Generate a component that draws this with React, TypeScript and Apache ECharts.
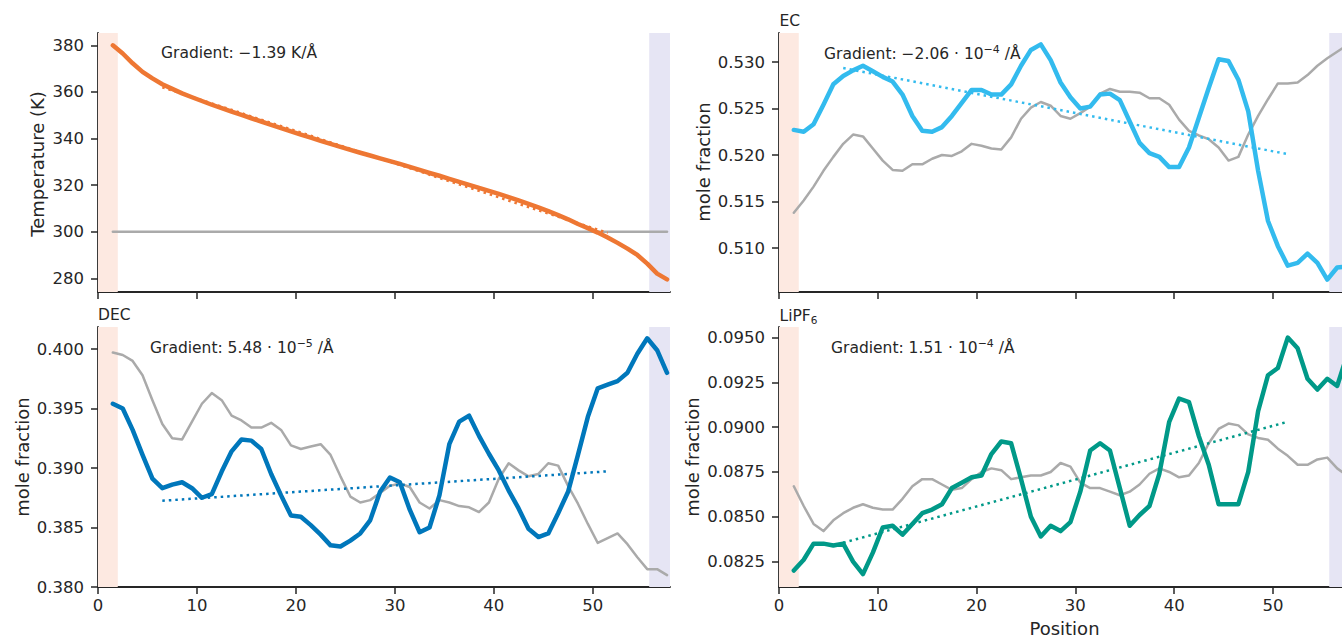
import React, { useEffect, useRef } from "react";
import * as echarts from "echarts";

// ---------- data ----------
const xPos = [
  1.5, 2.5, 3.5, 4.5, 5.5, 6.5, 7.5, 8.5, 9.5, 10.5,
  11.5, 12.5, 13.5, 14.5, 15.5, 16.5, 17.5, 18.5, 19.5, 20.5,
  21.5, 22.5, 23.5, 24.5, 25.5, 26.5, 27.5, 28.5, 29.5, 30.5,
  31.5, 32.5, 33.5, 34.5, 35.5, 36.5, 37.5, 38.5, 39.5, 40.5,
  41.5, 42.5, 43.5, 44.5, 45.5, 46.5, 47.5, 48.5, 49.5, 50.5,
  51.5, 52.5, 53.5, 54.5, 55.5, 56.5, 57.5,
];

const temperature = [
  380.0, 376.5, 372.3, 368.6, 365.8, 363.3, 361.3, 359.4, 357.7, 356.1,
  354.5, 353.0, 351.5, 350.1, 348.7, 347.3, 345.9, 344.5, 343.1, 341.7,
  340.4, 339.0, 337.7, 336.4, 335.1, 333.9, 332.7, 331.5, 330.3, 329.1,
  327.8, 326.5, 325.2, 324.0, 322.7, 321.4, 320.1, 318.8, 317.5, 316.2,
  314.8, 313.4, 311.9, 310.4, 308.8, 307.1, 305.3, 303.3, 301.5, 299.6,
  297.5, 295.2, 292.7, 290.0, 286.3, 282.0, 279.5,
];
const temperatureRef = [
  300.0, 300.0, 300.0, 300.0, 300.0, 300.0, 300.0, 300.0, 300.0, 300.0,
  300.0, 300.0, 300.0, 300.0, 300.0, 300.0, 300.0, 300.0, 300.0, 300.0,
  300.0, 300.0, 300.0, 300.0, 300.0, 300.0, 300.0, 300.0, 300.0, 300.0,
  300.0, 300.0, 300.0, 300.0, 300.0, 300.0, 300.0, 300.0, 300.0, 300.0,
  300.0, 300.0, 300.0, 300.0, 300.0, 300.0, 300.0, 300.0, 300.0, 300.0,
  300.0, 300.0, 300.0, 300.0, 300.0, 300.0, 300.0,
];
const temperatureFitX = [6.5, 51.5];
const temperatureFitY = [362.0, 299.45];

const ecValues = [
  0.5227, 0.5225, 0.5233, 0.5254, 0.5276, 0.5285, 0.5291, 0.5296, 0.5290, 0.5284,
  0.5279, 0.5265, 0.5242, 0.5226, 0.5225, 0.5230, 0.5242, 0.5256, 0.5270, 0.5270,
  0.5265, 0.5265, 0.5276, 0.5296, 0.5313, 0.5319, 0.5302, 0.5278, 0.5262, 0.5250,
  0.5252, 0.5265, 0.5266, 0.5259, 0.5236, 0.5213, 0.5202, 0.5198, 0.5187, 0.5187,
  0.5208, 0.5240, 0.5272, 0.5303, 0.5301, 0.5281, 0.5247, 0.5183, 0.5129, 0.5102,
  0.5081, 0.5084, 0.5094, 0.5084, 0.5066, 0.5079, 0.5080,
];
const ecRef = [
  0.5138, 0.5151, 0.5166, 0.5183, 0.5198, 0.5212, 0.5222, 0.5220, 0.5207, 0.5194,
  0.5184, 0.5183, 0.5190, 0.5190, 0.5196, 0.5200, 0.5199, 0.5204, 0.5212, 0.5210,
  0.5207, 0.5206, 0.5219, 0.5239, 0.5251, 0.5257, 0.5253, 0.5242, 0.5239, 0.5245,
  0.5252, 0.5266, 0.5271, 0.5268, 0.5268, 0.5267, 0.5261, 0.5261, 0.5254, 0.5238,
  0.5226, 0.5221, 0.5217, 0.5208, 0.5194, 0.5198, 0.5222, 0.5242, 0.5260, 0.5277,
  0.5277, 0.5278, 0.5286, 0.5296, 0.5304, 0.5311, 0.5318,
];
const ecFitX = [6.5, 51.5];
const ecFitY = [0.52936, 0.52009];

const decValues = [
  0.3954, 0.3950, 0.3932, 0.3911, 0.3891, 0.3883, 0.3886, 0.3888, 0.3883, 0.3875,
  0.3878, 0.3897, 0.3914, 0.3924, 0.3923, 0.3916, 0.3895, 0.3877, 0.3860, 0.3859,
  0.3852, 0.3844, 0.3835, 0.3834, 0.3839, 0.3845, 0.3856, 0.3880, 0.3892, 0.3888,
  0.3865, 0.3846, 0.3850, 0.3877, 0.3920, 0.3939, 0.3944, 0.3927, 0.3912, 0.3898,
  0.3881, 0.3866, 0.3849, 0.3842, 0.3845, 0.3862, 0.3880, 0.3911, 0.3943, 0.3967,
  0.3970, 0.3973, 0.3980, 0.3996, 0.4009, 0.3999, 0.3980,
];
const decRef = [
  0.3997, 0.3995, 0.3990, 0.3978, 0.3957, 0.3937, 0.3925, 0.3924, 0.3939, 0.3954,
  0.3963, 0.3957, 0.3944, 0.3940, 0.3934, 0.3934, 0.3938, 0.3932, 0.3919, 0.3916,
  0.3918, 0.3920, 0.3911, 0.3893, 0.3876, 0.3871, 0.3873, 0.3879, 0.3885, 0.3887,
  0.3884, 0.3871, 0.3866, 0.3873, 0.3871, 0.3868, 0.3867, 0.3863, 0.3871, 0.3891,
  0.3904, 0.3898, 0.3893, 0.3895, 0.3904, 0.3902, 0.3885, 0.3870, 0.3853, 0.3837,
  0.3841, 0.3845, 0.3836, 0.3825, 0.3815, 0.3815, 0.3810,
];
const decFitX = [6.5, 51.5];
const decFitY = [0.38725, 0.38972];

const lipfValues = [
  0.0820, 0.0826, 0.0835, 0.0835, 0.0834, 0.0835, 0.0825, 0.0818, 0.0830, 0.0844,
  0.0845, 0.0840, 0.0846, 0.0852, 0.0854, 0.0857, 0.0866, 0.0869, 0.0872, 0.0873,
  0.0885, 0.0892, 0.0891, 0.0871, 0.0850, 0.0839, 0.0845, 0.0842, 0.0847, 0.0864,
  0.0887, 0.0891, 0.0887, 0.0866, 0.0845, 0.0851, 0.0856, 0.0874, 0.0903, 0.0916,
  0.0914, 0.0895, 0.0879, 0.0857, 0.0857, 0.0857, 0.0875, 0.0909, 0.0929, 0.0933,
  0.0950, 0.0944, 0.0927, 0.0921, 0.0927, 0.0923, 0.0940,
];
const lipfRef = [
  0.0867, 0.0856, 0.0846, 0.0842, 0.0848, 0.0852, 0.0855, 0.0857, 0.0855, 0.0854,
  0.0854, 0.0860, 0.0867, 0.0871, 0.0871, 0.0868, 0.0865, 0.0866, 0.0871, 0.0875,
  0.0877, 0.0876, 0.0871, 0.0872, 0.0873, 0.0873, 0.0875, 0.0880, 0.0878, 0.0869,
  0.0866, 0.0866, 0.0864, 0.0862, 0.0864, 0.0868, 0.0874, 0.0877, 0.0875, 0.0872,
  0.0873, 0.0880, 0.0891, 0.0899, 0.0902, 0.0901, 0.0896, 0.0894, 0.0893, 0.0888,
  0.0884, 0.0879, 0.0879, 0.0882, 0.0883, 0.0877, 0.0873,
];
const lipfFitX = [6.5, 51.5];
const lipfFitY = [0.08355, 0.0903];

// axes
const xRange = [0, 57.8];
const xTicks = [0, 10, 20, 30, 40, 50];
const leftBand = [0, 2.0];
const rightBand = [55.7, 57.8];

const tempRange = [274.1, 385.3];
const tempTicks = [280, 300, 320, 340, 360, 380];
const ecRange = [0.50527, 0.53312];
const ecTicks = [0.51, 0.515, 0.52, 0.525, 0.53];
const decRange = [0.38, 0.40185];
const decTicks = [0.38, 0.385, 0.39, 0.395, 0.4];
const lipfRange = [0.08108, 0.09559];
const lipfTicks = [0.0825, 0.085, 0.0875, 0.09, 0.0925, 0.095];

// ---------- styling ----------
const FONT = "DejaVu Sans";
const TXT = "#262626";
const GRAY = "#aaaaaa";
const LEFT_BAND = "#fde9e1";
const RIGHT_BAND = "#e6e5f4";

const grids = [
  { left: 98, top: 33, width: 572, height: 259 },
  { left: 779, top: 33, width: 571, height: 259 },
  { left: 98, top: 327, width: 572, height: 260 },
  { left: 779, top: 327, width: 571, height: 260 },
];

function pairs(xs: number[], ys: number[]) {
  return xs.map((x, i) => [x, ys[i]]);
}

function xAxis(gridIndex: number, showLabels: boolean) {
  return {
    type: "value",
    gridIndex,
    min: xRange[0],
    max: xRange[1],
    axisLine: { show: true, onZero: false, lineStyle: { color: TXT, width: 1.8 } },
    axisTick: { show: true, length: 7, lineStyle: { color: TXT, width: 1.5 }, customValues: xTicks },
    axisLabel: {
      show: showLabels,
      customValues: xTicks,
      fontSize: 16.5,
      color: TXT,
      fontFamily: FONT,
      margin: 10,
    },
    splitLine: { show: false },
  };
}

function yAxis(gridIndex: number, range: number[], ticks: number[], digits: number) {
  return {
    type: "value",
    gridIndex,
    min: range[0],
    max: range[1],
    axisLine: { show: true, onZero: false, lineStyle: { color: TXT, width: 1.8 } },
    axisTick: { show: true, length: 7, lineStyle: { color: TXT, width: 1.5 }, customValues: ticks },
    axisLabel: {
      show: true,
      customValues: ticks,
      formatter: (v: number) => v.toFixed(digits),
      fontSize: 16.5,
      color: TXT,
      fontFamily: FONT,
      margin: 14,
    },
    splitLine: { show: false },
  };
}

function bandSeries(idx: number) {
  return {
    type: "line",
    xAxisIndex: idx,
    yAxisIndex: idx,
    data: [],
    z: 0,
    silent: true,
    markArea: {
      silent: true,
      data: [
        [{ xAxis: leftBand[0], itemStyle: { color: LEFT_BAND } }, { xAxis: leftBand[1] }],
        [{ xAxis: rightBand[0], itemStyle: { color: RIGHT_BAND } }, { xAxis: rightBand[1] }],
      ],
    },
  };
}

function lineSeries(idx: number, data: number[][], color: string, width: number, z: number, type: any = "solid") {
  return {
    type: "line",
    xAxisIndex: idx,
    yAxisIndex: idx,
    data,
    symbol: "none",
    showSymbol: false,
    silent: true,
    z,
    lineStyle: { color, width, type, join: "round", cap: type === "solid" ? "round" : "butt" },
  };
}

const DOT: any = [2.5, 4];

const panels = [
  { vals: temperature, ref: temperatureRef, fx: temperatureFitX, fy: temperatureFitY, color: "#ee7733" },
  { vals: ecValues, ref: ecRef, fx: ecFitX, fy: ecFitY, color: "#33bbee" },
  { vals: decValues, ref: decRef, fx: decFitX, fy: decFitY, color: "#0077bb" },
  { vals: lipfValues, ref: lipfRef, fx: lipfFitX, fy: lipfFitY, color: "#009988" },
];

const series: any[] = [];
panels.forEach((p, i) => {
  series.push(bandSeries(i));
  series.push(lineSeries(i, pairs(xPos, p.ref), GRAY, 2.5, 2));
  series.push(lineSeries(i, pairs(xPos, p.vals), p.color, 4.5, 3));
  series.push(lineSeries(i, pairs(p.fx, p.fy), p.color, 2.5, 4, DOT));
});

const baseText = { fontFamily: FONT, fill: TXT };
const rich = {
  n: { ...baseText, fontSize: 15.5, lineHeight: 20 },
  s: { ...baseText, fontSize: 11, lineHeight: 12, verticalAlign: "top" },
  b: { ...baseText, fontSize: 10.5, lineHeight: 12, verticalAlign: "bottom" },
  t: { ...baseText, fontSize: 15.5, lineHeight: 18 },
};

function gradText(x: number, y: number, text: string) {
  return { type: "text", x, y, z: 100, style: { text, rich, align: "left", verticalAlign: "middle" } };
}
function plainText(x: number, y: number, text: string, size: number, align = "left", rotation = 0) {
  return {
    type: "text",
    x,
    y,
    rotation,
    z: 100,
    style: { text, ...baseText, fontSize: size, align, verticalAlign: "middle" },
  };
}

const graphic = [
  gradText(161, 53, "{n|Gradient: \u22121.39 K/\u00c5}"),
  gradText(824, 54, "{n|Gradient: \u22122.06 \u00b7 10}{s|\u22124}{n| /\u00c5}"),
  gradText(150, 348, "{n|Gradient: 5.48 \u00b7 10}{s|\u22125}{n| /\u00c5}"),
  gradText(831, 348, "{n|Gradient: 1.51 \u00b7 10}{s|\u22124}{n| /\u00c5}"),
  plainText(779.5, 21, "EC", 15.5),
  plainText(98, 315, "DEC", 15.5),
  { type: "text", x: 779.5, y: 316, z: 100, style: { text: "{t|LiPF}{b|6}", rich, align: "left", verticalAlign: "middle" } },
  plainText(37, 164, "Temperature (K)", 18, "center", Math.PI / 2),
  plainText(703, 162, "mole fraction", 18, "center", Math.PI / 2),
  plainText(22, 457, "mole fraction", 18, "center", Math.PI / 2),
  plainText(692, 457, "mole fraction", 18, "center", Math.PI / 2),
  plainText(1064.5, 628, "Position", 18, "center"),
];

const option: any = {
  animation: false,
  backgroundColor: "#ffffff",
  grid: grids,
  xAxis: [xAxis(0, false), xAxis(1, false), xAxis(2, true), xAxis(3, true)],
  yAxis: [
    yAxis(0, tempRange, tempTicks, 0),
    yAxis(1, ecRange, ecTicks, 3),
    yAxis(2, decRange, decTicks, 3),
    yAxis(3, lipfRange, lipfTicks, 4),
  ],
  series,
  graphic,
};

export default function App() {
  const ref = useRef<HTMLDivElement>(null);
  useEffect(() => {
    document.body.style.margin = "0";
    document.body.style.overflow = "hidden";
    const chart = echarts.init(ref.current!, null, { renderer: "svg" });
    chart.setOption(option);
    return () => chart.dispose();
  }, []);
  return (
    <div
      ref={ref}
      style={{ position: "fixed", left: 0, top: 0, width: 1350, height: 635, background: "#fff" }}
    />
  );
}
